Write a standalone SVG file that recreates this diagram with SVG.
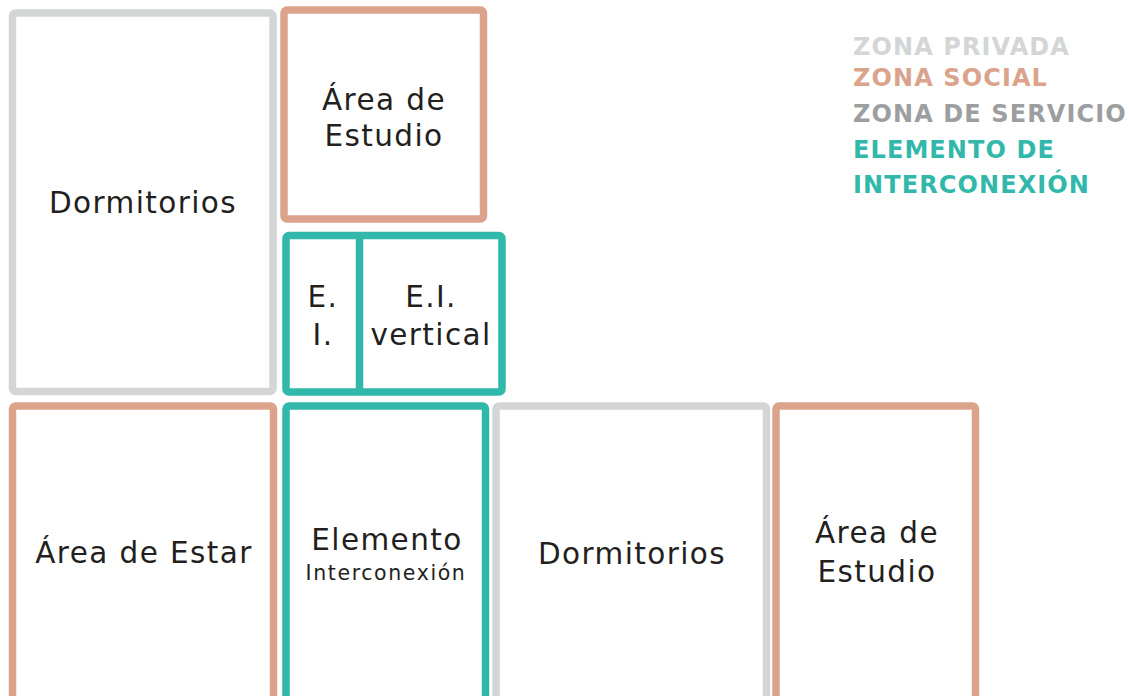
<svg xmlns="http://www.w3.org/2000/svg" width="1129" height="696" viewBox="0 0 1129 696">
<style>
.box{fill:#fff;stroke-width:7.5;stroke-linejoin:round}
.priv{stroke:#d4d5d6}
.soc{stroke:#dba38c}
.ei{stroke:#32b8ab}
.t{font-family:"DejaVu Sans","Liberation Sans",sans-serif;font-size:29.5px;letter-spacing:1.4px;fill:#231f20;text-anchor:middle}
.s{font-size:20.5px;letter-spacing:1.6px}
.lg{font-family:"DejaVu Sans","Liberation Sans",sans-serif;font-weight:bold;font-size:24px;letter-spacing:1.1px}
</style>
<rect width="1129" height="696" fill="#fff"/>
<g id="legend" class="lg">
<text x="853" y="55" fill="#d4d5d6">ZONA PRIVADA</text>
<text x="853" y="86" fill="#dba38c">ZONA SOCIAL</text>
<text x="853" y="122" fill="#9d9ea0">ZONA DE SERVICIO</text>
<text x="853" y="158" fill="#32b8ab">ELEMENTO DE</text>
<text x="853" y="193" fill="#32b8ab">INTERCONEXIÓN</text>
</g>
<g id="dormitorios1">
<rect class="box priv" x="12.5" y="13" width="260.5" height="378.5" rx="3"/>
<text class="t" x="143" y="213">Dormitorios</text>
</g>
<g id="estudio1">
<rect class="box soc" x="284" y="10" width="199.5" height="209" rx="3"/>
<text class="t" x="384" y="110">Área de</text>
<text class="t" x="384" y="146">Estudio</text>
</g>
<g id="ei-vertical">
<rect class="box ei" x="286" y="235.5" width="216" height="156.5" rx="3"/>
<text class="t" x="431" y="307">E.I.</text>
<text class="t" x="431" y="345">vertical</text>
</g>
<g id="ei-small">
<line class="ei" x1="359.5" y1="235.5" x2="359.5" y2="392" stroke-width="7.5"/>
<text class="t" x="323" y="307">E.</text>
<text class="t" x="323" y="345">I.</text>
</g>
<g id="estar">
<rect class="box soc" x="12.5" y="406" width="261" height="320" rx="3"/>
<text class="t" x="144" y="563">Área de Estar</text>
</g>
<g id="elemento">
<rect class="box ei" x="286" y="406" width="199.5" height="320" rx="3"/>
<text class="t" x="387" y="550">Elemento</text>
<text class="t s" x="386" y="580">Interconexión</text>
</g>
<g id="dormitorios2">
<rect class="box priv" x="496" y="406" width="270.5" height="320" rx="3"/>
<text class="t" x="632" y="564">Dormitorios</text>
</g>
<g id="estudio2">
<rect class="box soc" x="776" y="406" width="199.5" height="320" rx="3"/>
<text class="t" x="877" y="543">Área de</text>
<text class="t" x="877" y="582">Estudio</text>
</g>
<g id="connectors"/>
</svg>
